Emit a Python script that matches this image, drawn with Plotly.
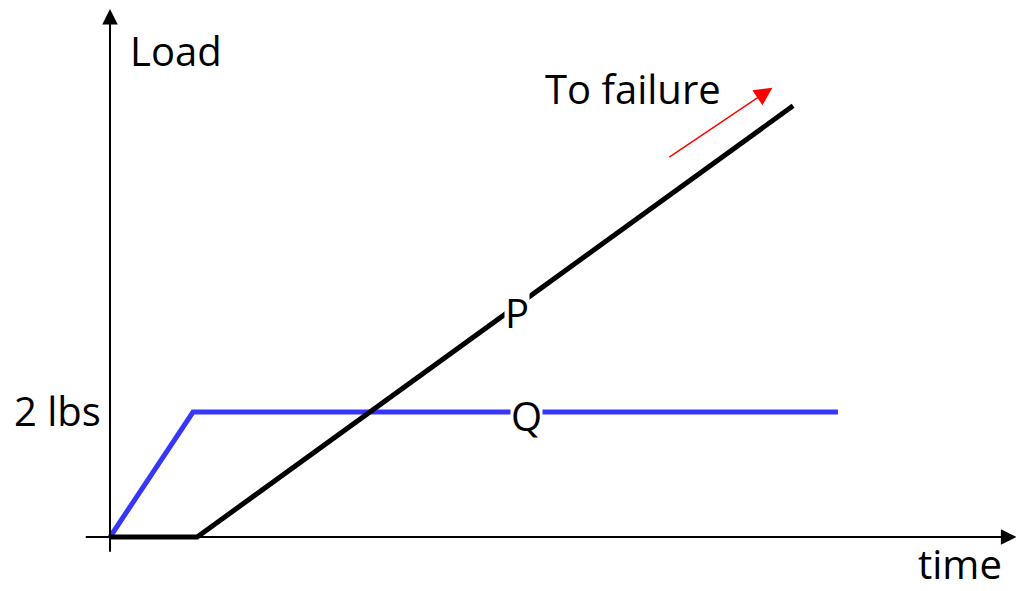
import plotly.graph_objects as go

# Data (time in arbitrary units, load in lbs)
q_time = [0, 1.0, 8.77]
q_load = [0, 2.0, 2.0]
p_time = [0, 1.05, 8.23]
p_load = [0, 0.0, 6.9]

FONT = "Open Sans"
FS = 40

fig = go.Figure()
fig.add_trace(go.Scatter(x=q_time, y=q_load, mode="lines",
                         line=dict(color="#3636ff", width=5), hoverinfo="skip"))
fig.add_trace(go.Scatter(x=p_time, y=p_load, mode="lines",
                         line=dict(color="black", width=5), hoverinfo="skip"))

anns = []
# axes with arrowheads
anns.append(dict(x=10.92, y=0, ax=-0.31, ay=0, xref="x", yref="y", axref="x", ayref="y",
                 text="", showarrow=True, arrowhead=2, arrowwidth=2, arrowsize=1.55,
                 arrowcolor="black"))
anns.append(dict(x=0, y=8.45, ax=0, ay=-0.26, xref="x", yref="y", axref="x", ayref="y",
                 text="", showarrow=True, arrowhead=2, arrowwidth=2, arrowsize=1.55,
                 arrowcolor="black"))
# red arrow
anns.append(dict(x=7.98, y=7.19, ax=6.72, ay=6.06, xref="x", yref="y", axref="x", ayref="y",
                 text="", showarrow=True, arrowhead=2, arrowwidth=1.5, arrowsize=2.4,
                 arrowcolor="red"))

def label(text, x, y, bg=None, yanchor="middle"):
    d = dict(x=x, y=y, xref="x", yref="y", text=text, showarrow=False,
             font=dict(family=FONT, size=FS, color="black"), xanchor="center", yanchor=yanchor)
    if bg:
        d["bgcolor"] = bg
        d["borderpad"] = 0
    return d

anns.append(label("Load", 0.8, 7.79))
anns.append(label("2 lbs", -0.63, 2.02))
anns.append(label("time", 10.24, -0.43))
anns.append(label("To failure", 6.3, 7.18))
anns.append(label("P", 4.9, 3.6, bg="white"))
anns.append(label("Q", 5.02, 1.95, bg="white"))

fig.update_layout(
    width=1024, height=591,
    margin=dict(l=0, r=0, t=0, b=0),
    paper_bgcolor="white", plot_bgcolor="white",
    showlegend=False,
    xaxis=dict(range=[-1.229, 11.108], visible=False, fixedrange=True),
    yaxis=dict(range=[-0.992, 8.464], visible=False, fixedrange=True),
    annotations=anns,
)
fig.write_html("out.html")
